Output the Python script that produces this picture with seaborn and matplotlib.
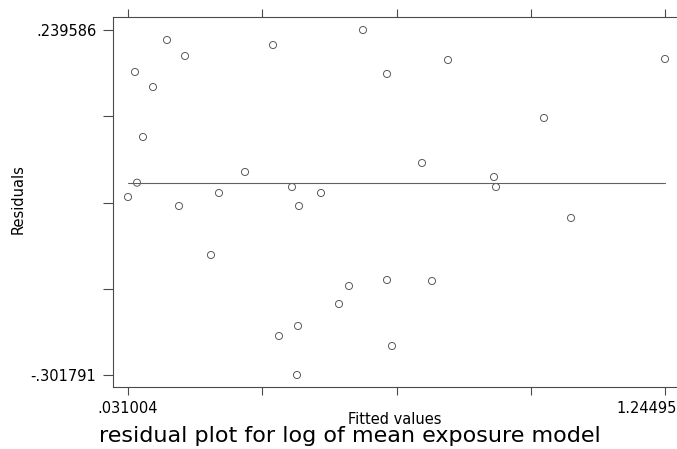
import numpy as np
import pandas as pd
import matplotlib
matplotlib.use("Agg")
import matplotlib.pyplot as plt
import matplotlib.transforms as mtransforms
import seaborn as sns

# Fitted values and residuals of the log mean exposure model
fitted = [0.0310, 0.0514, 0.0468, 0.0649, 0.0875, 0.1192, 0.1463, 0.1599,
          0.2186, 0.2367, 0.2955, 0.3588, 0.3724, 0.4017, 0.4153, 0.4176,
          0.4130, 0.4673, 0.5080, 0.5306, 0.5622, 0.6165, 0.6165, 0.6278,
          0.6956, 0.7182, 0.7544, 0.8584, 0.8629, 0.9714, 1.0325, 1.24495]
residuals = [-0.0225, 0.0000, 0.1737, 0.0717, 0.1501, 0.2239, -0.0366, 0.1988,
             -0.1135, -0.0162, 0.0168, 0.2160, -0.2406, -0.0068, -0.2249, -0.0366,
             -0.301791, -0.0162, -0.1904, -0.1621, 0.239586, 0.1706, -0.1527, -0.2563,
             0.0309, -0.1543, 0.1925, 0.0089, -0.0068, 0.1015, -0.0554, 0.1941]

x_range = [0.031004, 1.24495]
y_range = [-0.301791, 0.239586]
x_tick_labels = [".031004", "", "", "", "1.24495"]
y_tick_labels = ["-.301791", "", "", "", ".239586"]
title = "residual plot for log of mean exposure model"

sns.set_theme(style="ticks")
plt.rcParams["font.family"] = ["DejaVu Sans"]

W, H = 677, 449
fig = plt.figure(figsize=(W / 100, H / 100), dpi=100)
ax = fig.add_axes([113 / W, 1 - 387 / H, 563 / W, 370 / H])

df = pd.DataFrame({"Fitted values": fitted, "Residuals": residuals})
line_col = "#4a4a4a"

# zero reference line across the range of fitted values
sns.lineplot(x=x_range, y=[0, 0], ax=ax, color="#606060", linewidth=0.8)
sns.scatterplot(data=df, x="Fitted values", y="Residuals", ax=ax,
                marker="o", s=26, facecolor="none", edgecolor="#5a5a5a",
                linewidth=0.7)

ax.set_xlim(-0.0029, 1.2698)
ax.set_ylim(-0.32062, 0.25999)

ax.set_xticks(np.linspace(x_range[0], x_range[1], 5))
ax.set_xticklabels(x_tick_labels)
ax.set_yticks(np.linspace(y_range[0], y_range[1], 5))
ax.set_yticklabels(y_tick_labels)

ax.tick_params(axis="x", bottom=True, top=True, direction="out", length=6,
               width=0.8, color=line_col, pad=4, labelsize=10.5, labelcolor="black")
ax.tick_params(axis="y", left=True, right=False, direction="out", length=7,
               width=0.8, color=line_col, pad=5, labelsize=10.5, labelcolor="black")

for side in ["left", "bottom", "top"]:
    ax.spines[side].set_color(line_col)
    ax.spines[side].set_linewidth(0.8)
ax.spines["right"].set_visible(False)

# keep the right-most value label inside the canvas
last = ax.get_xticklabels()[-1]
last.set_horizontalalignment("right")
last.set_transform(last.get_transform() +
                   mtransforms.ScaledTranslation(12 / 100, 0, fig.dpi_scale_trans))

ax.set_xlabel("Fitted values", fontsize=10.5, color="black")
ax.xaxis.label.set_verticalalignment("center")
ax.xaxis.set_label_coords(0.5, -33 / 370)
ax.set_ylabel("Residuals", fontsize=10.5, color="black")
ax.yaxis.label.set_verticalalignment("center")
ax.yaxis.set_label_coords(-95 / 563, 188 / 370)

fig.text(350 / W, 1 - 436 / H, title, ha="center", va="center",
         fontsize=16, color="black")

fig.savefig("out.png", dpi=100, facecolor="white")
